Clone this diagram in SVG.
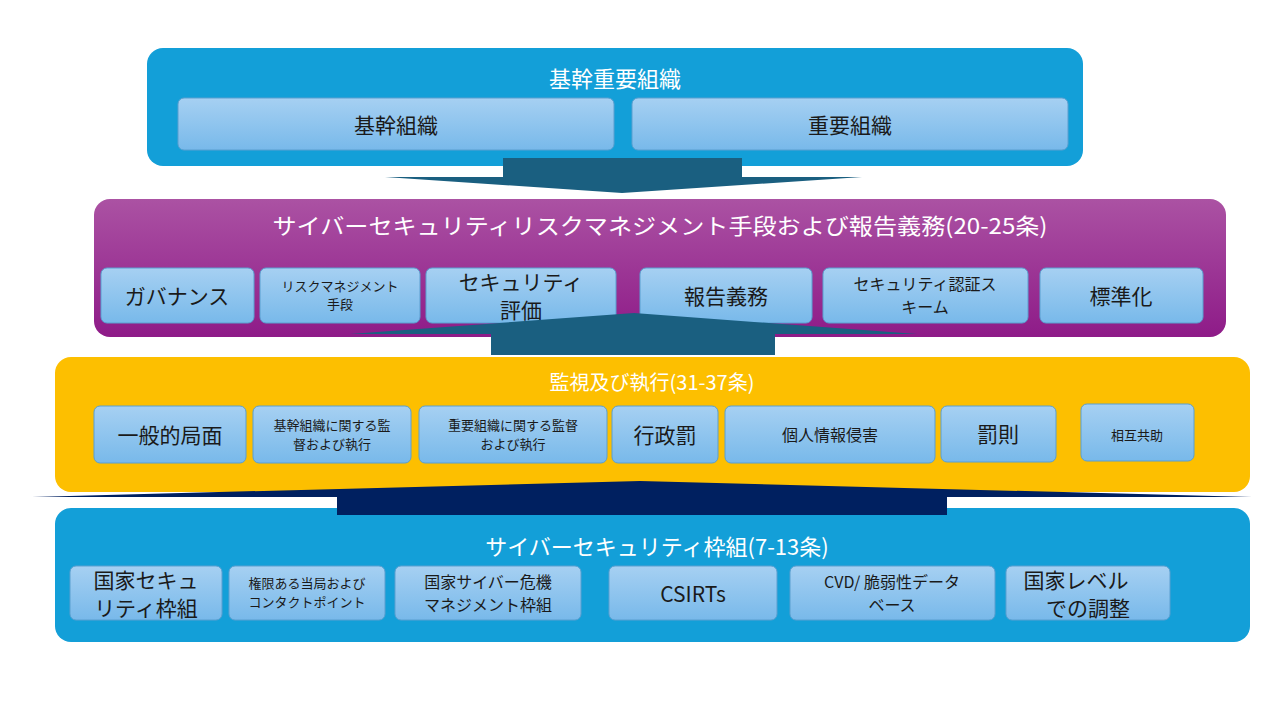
<svg xmlns="http://www.w3.org/2000/svg" width="1280" height="720" viewBox="0 0 1280 720">
<defs>
<linearGradient id="bx" x1="0" y1="0" x2="0" y2="1"><stop offset="0" stop-color="#a6d0f2"/><stop offset="1" stop-color="#78b9ea"/></linearGradient>
<linearGradient id="pu" x1="0" y1="0" x2="0" y2="1"><stop offset="0" stop-color="#ab52a3"/><stop offset="1" stop-color="#8e1b88"/></linearGradient>
</defs>
<style>
text{font-family:"Noto Sans CJK JP","Liberation Sans",sans-serif;text-anchor:middle;dominant-baseline:central}
.t{fill:#fff;font-size:22px}
.b rect{fill:url(#bx);stroke:#5a9fd0;stroke-width:1}
.b text{fill:#1a1a1a}
.l{font-size:21px}.m{font-size:16px}.s{font-size:13px}
</style>
<rect width="1280" height="720" fill="#fff"/>
<g id="top"><rect x="147" y="48" width="936" height="118" rx="16" fill="#139fd8"/><text class="t" x="615" y="77">基幹重要組織</text></g>
<g id="n1" class="b"><rect x="178" y="98" width="436" height="52" rx="6"/><text class="l" x="396" y="124">基幹組織</text></g>
<g id="n2" class="b"><rect x="632" y="98" width="436" height="52" rx="6"/><text class="l" x="850" y="124">重要組織</text></g>
<g id="mid"><rect x="94" y="199" width="1132" height="138" rx="16" fill="url(#pu)"/><text class="t" x="660" y="224" textLength="775" lengthAdjust="spacingAndGlyphs">サイバーセキュリティリスクマネジメント手段および報告義務(20-25条)</text></g>
<g id="p1" class="b"><rect x="101" y="268" width="153" height="55" rx="6"/><text class="l" x="177" y="295">ガバナンス</text></g>
<g id="p2" class="b"><rect x="260" y="268" width="160" height="55" rx="6"/><text class="s" x="340" y="285">リスクマネジメント</text><text class="s" x="340" y="303">手段</text></g>
<g id="p3" class="b"><rect x="426" y="268" width="190" height="55" rx="6"/><text class="l" x="521" y="281">セキュリティ</text><text class="l" x="521" y="309">評価</text></g>
<g id="p4" class="b"><rect x="640" y="268" width="172" height="55" rx="6"/><text class="l" x="726" y="295">報告義務</text></g>
<g id="p5" class="b"><rect x="823" y="268" width="205" height="55" rx="6"/><text class="m" x="925" y="283">セキュリティ認証ス</text><text class="m" x="925" y="306">キーム</text></g>
<g id="p6" class="b"><rect x="1040" y="268" width="163" height="55" rx="6"/><text class="l" x="1121" y="295">標準化</text></g>
<g id="sup"><rect x="55" y="357" width="1195" height="135" rx="16" fill="#fdbf00"/><text class="t" style="font-size:20px" x="652" y="381">監視及び執行(31-37条)</text></g>
<g id="s1" class="b"><rect x="94" y="406" width="152" height="57" rx="6"/><text class="l" x="170" y="434">一般的局面</text></g>
<g id="s2" class="b"><rect x="253" y="406" width="158" height="57" rx="6"/><text class="s" x="332" y="424">基幹組織に関する監</text><text class="s" x="332" y="443">督および執行</text></g>
<g id="s3" class="b"><rect x="419" y="406" width="188" height="57" rx="6"/><text class="s" x="513" y="424">重要組織に関する監督</text><text class="s" x="513" y="443">および執行</text></g>
<g id="s4" class="b"><rect x="612" y="406" width="106" height="57" rx="6"/><text class="l" x="665" y="434">行政罰</text></g>
<g id="s5" class="b"><rect x="725" y="406" width="210" height="57" rx="6"/><text class="m" x="830" y="434">個人情報侵害</text></g>
<g id="s6" class="b"><rect x="941" y="406" width="115" height="56" rx="6"/><text class="l" x="998" y="433">罰則</text></g>
<g id="s7" class="b"><rect x="1081" y="404" width="113" height="57" rx="6"/><text class="s" x="1137" y="434">相互共助</text></g>
<g id="bot"><rect x="55" y="508" width="1195" height="134" rx="16" fill="#139fd8"/><text class="t" x="657" y="545">サイバーセキュリティ枠組(7-13条)</text></g>
<g id="c1" class="b"><rect x="70" y="566" width="152" height="54" rx="6"/><text class="l" x="146" y="579">国家セキュ</text><text class="l" x="146" y="607">リティ枠組</text></g>
<g id="c2" class="b"><rect x="229" y="566" width="156" height="54" rx="6"/><text class="s" x="307" y="582">権限ある当局および</text><text class="s" x="307" y="601">コンタクトポイント</text></g>
<g id="c3" class="b"><rect x="395" y="566" width="186" height="54" rx="6"/><text class="m" x="488" y="581">国家サイバー危機</text><text class="m" x="488" y="604">マネジメント枠組</text></g>
<g id="c4" class="b"><rect x="609" y="566" width="168" height="54" rx="6"/><text class="l" x="693" y="593">CSIRTs</text></g>
<g id="c5" class="b"><rect x="790" y="566" width="205" height="54" rx="6"/><text class="m" x="892" y="581">CVD/ 脆弱性データ</text><text class="m" x="892" y="604">ベース</text></g>
<g id="c6" class="b"><rect x="1006" y="566" width="164" height="54" rx="6"/><text class="l" x="1076" y="579">国家レベル</text><text class="l" x="1088" y="607">での調整</text></g>
<g id="connectors">
<polygon points="503,158 742,158 742,177 862,177 622,193 385,177 503,177" fill="#1a5f80"/>
<polygon points="634,313 917,334 775,334 775,355 491,355 491,334 350,334" fill="#1a5f80"/>
<polygon points="640,481 1252,497 947,497 947,515 337,515 337,497 32,497" fill="#002060"/>
</g>
</svg>
